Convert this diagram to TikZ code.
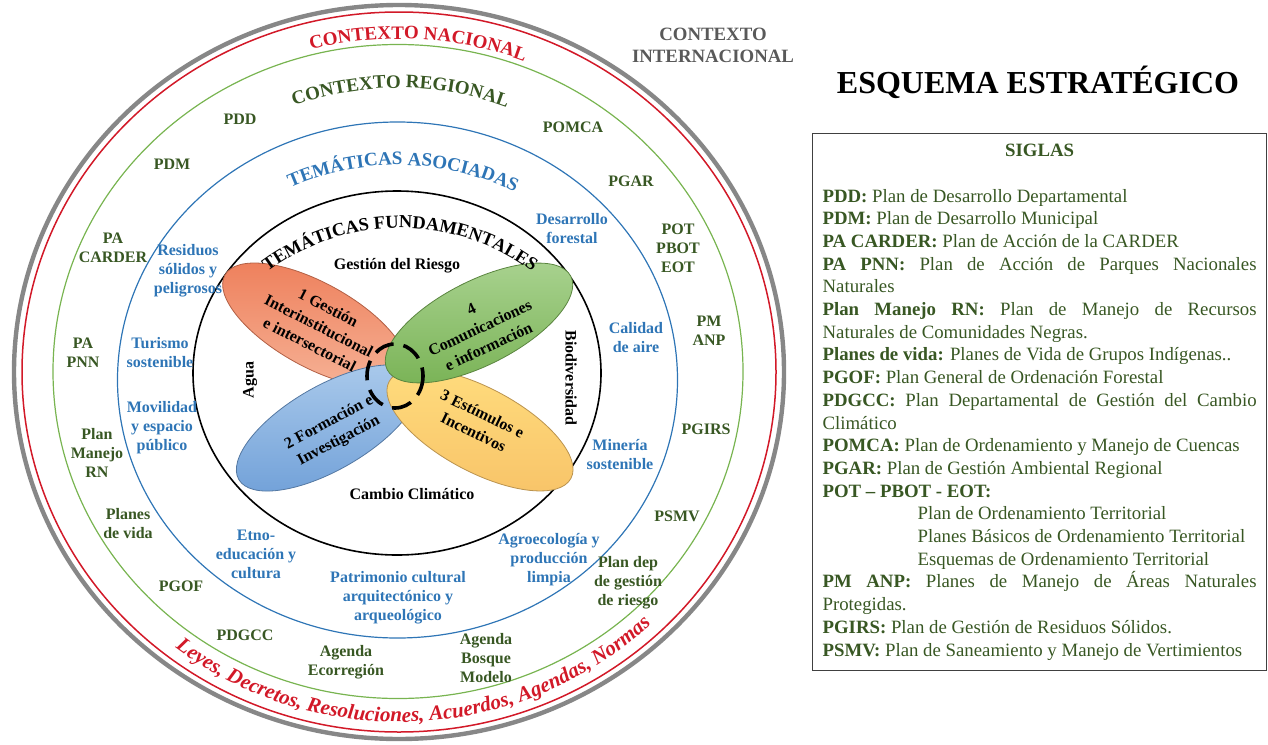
\documentclass[tikz,border=0pt]{standalone}
\usepackage{fontspec}
\setmainfont{Liberation Serif}
\usetikzlibrary{calc, decorations.text}
\definecolor{natred}{RGB}{210,25,40}
\definecolor{intgray}{RGB}{89,89,89}
\definecolor{ringgray}{RGB}{135,135,135}
\definecolor{reggreen}{RGB}{56,87,35}
\definecolor{ringgreen}{RGB}{120,180,80}
\definecolor{asoblue}{RGB}{46,117,182}
\definecolor{petorangeA}{RGB}{238,128,92}
\definecolor{petorangeB}{RGB}{246,178,150}
\definecolor{petgreenA}{RGB}{170,211,145}
\definecolor{petgreenB}{RGB}{120,178,84}
\definecolor{petyellowA}{RGB}{255,220,125}
\definecolor{petyellowB}{RGB}{248,196,105}
\definecolor{petblueA}{RGB}{172,203,236}
\definecolor{petblueB}{RGB}{112,160,216}

\begin{document}
\begin{tikzpicture}[x=0.5pt, y=-0.5pt,
		lbl/.style={font=\fontsize{8}{9.5}\selectfont\bfseries, align=center, inner sep=0pt},
		plan/.style={lbl, text=reggreen},
		tema/.style={lbl, text=asoblue},
		fund/.style={lbl, text=black},
		eje/.style={fund, font=\fontsize{8}{10.3}\selectfont\bfseries},
		petal/.style={draw=#1!75!black, line width=0.4pt},
		arctext/.style={decorate, decoration={text along path, text align=center, text color=#1}}]
	\useasboundingbox (0,0) rectangle (1268,744);
	\draw[ringgray, line width=2.2pt] (399,372) ellipse [x radius=385, y radius=367];
	\draw[natred, line width=0.75pt] (399,372) ellipse [x radius=377, y radius=360];
	\draw[ringgreen, line width=0.6pt] (398,371.5) ellipse [x radius=345, y radius=327];
	\draw[asoblue, line width=0.6pt] (397.5,380) ellipse [x radius=280, y radius=258];
	\draw[black, line width=0.8pt] (397,373) ellipse [x radius=204, y radius=182];

	\path[arctext=natred, decoration={text={|\fontsize{9.5}{11}\selectfont\bfseries|CONTEXTO NACIONAL}}]
		($(399,372)+(213.3:348 and 333)$) arc [start angle=213.3, end angle=333.3, x radius=348, y radius=333];
	\path[arctext=reggreen, decoration={text={|\fontsize{9.5}{11}\selectfont\bfseries|CONTEXTO REGIONAL}}]
		($(398,371)+(210.5:300 and 283)$) arc [start angle=210.5, end angle=330.5, x radius=300, y radius=283];
	\path[arctext=asoblue, decoration={text={|\fontsize{9.5}{11}\selectfont\bfseries|TEMÁTICAS ASOCIADAS}}]
		($(397.5,380)+(211.5:240 and 215)$) arc [start angle=211.5, end angle=331.5, x radius=240, y radius=215];
	\path[arctext=natred, decoration={text={|\fontsize{10.5}{12}\selectfont\bfseries\itshape|Leyes, Decretos, Resoluciones, Acuerdos, Agendas, Normas}}]
		($(399,372)+(147:363 and 350)$) arc [start angle=147, end angle=27, x radius=363, y radius=350];

	\shade[petal=petorangeA, rotate around={-29:(315,325)}, top color=petorangeA, bottom color=petorangeB] (315,325) ellipse [x radius=103, y radius=42];
	\shade[petal=petblueB, rotate around={30:(328,428)}, top color=petblueA, bottom color=petblueB] (328,428) ellipse [x radius=103, y radius=42];
	\shade[petal=petyellowB, rotate around={-28:(480,430)}, top color=petyellowA, bottom color=petyellowB] (480,430) ellipse [x radius=103, y radius=42];
	\shade[petal=petgreenB, rotate around={27:(479,323)}, top color=petgreenA, bottom color=petgreenB] (479,323) ellipse [x radius=103, y radius=42];
	\draw[line width=1.8pt, dash pattern=on 10pt off 5pt] (395,376) ellipse [x radius=28, y radius=32];
	\path[arctext=black, decoration={text={|\fontsize{9.2}{11}\selectfont\bfseries|TEMÁTICAS FUNDAMENTALES}}]
		($(400,450)+(210:222)$) arc [start angle=210, end angle=330, radius=222];

	\node[eje, rotate=-27] (gestion) at (319,326) {1 Gestión\\Interinstitucional\\e intersectorial};
	\node[eje, rotate=25] (comunic) at (480,328) {4\\Comunicaciones\\e información};
	\node[eje, rotate=-26] (estimul) at (478,423) {3 Estímulos e\\Incentivos};
	\node[eje, rotate=28] (formac) at (334,432) {2 Formación e\\Investigación};
	\node[fund] (riesgo) at (397,266) {Gestión del Riesgo};
	\node[fund] (clima) at (412,494) {Cambio Climático};
	\node[fund, rotate=90] (agua) at (250,380) {Agua};
	\node[fund, rotate=-90] (biodiv) at (571,378) {Biodiversidad};

	\node[tema] (residuos) at (188,271) {Residuos\\sólidos y\\peligrosos};
	\node[tema] (forestal) at (572,229) {Desarrollo\\forestal};
	\node[tema] (turismo) at (160,353) {Turismo\\sostenible};
	\node[tema] (aire) at (636,338) {Calidad\\de aire};
	\node[tema] (movilidad) at (162,428) {Movilidad\\y espacio\\público};
	\node[tema] (mineria) at (620,455) {Minería\\sostenible};
	\node[tema] (etno) at (256,554) {Etno-\\educación y\\cultura};
	\node[tema] (agroeco) at (549,560) {Agroecología y\\producción\\limpia};
	\node[tema] (patrimonio) at (398,598) {Patrimonio cultural\\arquitectónico y\\arqueológico};

	\node[plan] (pdd) at (240,119) {PDD};
	\node[plan] (pomca) at (573,127) {POMCA};
	\node[plan] (pdm) at (172,164) {PDM};
	\node[plan] (pgar) at (631,181) {PGAR};
	\node[plan] (carder) at (113,248) {PA\\CARDER};
	\node[plan] (pot) at (678,248) {POT\\PBOT\\EOT};
	\node[plan] (pnn) at (83,353) {PA\\PNN};
	\node[plan] (anp) at (709,331) {PM\\ANP};
	\node[plan] (manejo) at (97,453) {Plan\\Manejo\\RN};
	\node[plan] (pgirs) at (706,429) {PGIRS};
	\node[plan] (vida) at (128,524) {Planes\\de vida};
	\node[plan] (psmv) at (677,516) {PSMV};
	\node[plan] (pgof) at (181,586) {PGOF};
	\node[plan] (pdep) at (628,583) {Plan dep\\de gestión\\de riesgo};
	\node[plan] (pdgcc) at (245,635) {PDGCC};
	\node[plan] (ecorreg) at (346,662) {Agenda\\Ecorregión};
	\node[plan] (bosque) at (486,658) {Agenda\\Bosque\\Modelo};

	\node[align=center, text=intgray, font=\fontsize{9.4}{11}\selectfont\bfseries] (internac) at (713,45) {CONTEXTO\\INTERNACIONAL};
	\node[font=\fontsize{16}{19}\selectfont\bfseries] (titulo) at (1038,82) {ESQUEMA ESTRATÉGICO};
	\node[draw=black!75, line width=0.6pt, anchor=north west, text width=217pt, inner xsep=5pt, inner ysep=5.3pt,
		align=justify, text=reggreen, font=\fontsize{9.4}{11.35}\selectfont] (siglas) at (812,133) {%
		\parindent=0pt\hyphenpenalty=10000\exhyphenpenalty=10000\tolerance=10000
		{\centering\bfseries SIGLAS\par}
		\mbox{}\par
		\textbf{PDD:} Plan de Desarrollo Departamental\par
		\textbf{PDM:} Plan de Desarrollo Municipal\par
		\textbf{PA CARDER:} Plan de Acción de la CARDER\par
		\textbf{PA PNN:} Plan de Acción de Parques Nacionales\linebreak Naturales\par
		\textbf{Plan Manejo RN:} Plan de Manejo de Recursos\linebreak Naturales de Comunidades Negras.\par
		\textbf{Planes de vida:} Planes de Vida de Grupos Indígenas..\par
		\textbf{PGOF:} Plan General de Ordenación Forestal\par
		\textbf{PDGCC:} Plan Departamental de Gestión del Cambio\linebreak Climático\par
		\textbf{POMCA:} Plan de Ordenamiento y Manejo de Cuencas\par
		\textbf{PGAR:} Plan de Gestión Ambiental Regional\par
		\textbf{POT – PBOT - EOT:}\par
		{\leftskip=47.5pt Plan de Ordenamiento Territorial\par
		Planes Básicos de Ordenamiento Territorial\par
		Esquemas de Ordenamiento Territorial\par}
		\textbf{PM ANP:} Planes de Manejo de Áreas Naturales\linebreak Protegidas.\par
		\textbf{PGIRS:} Plan de Gestión de Residuos Sólidos.\par
		\textbf{PSMV:} Plan de Saneamiento y Manejo de Vertimientos};
\end{tikzpicture}
\end{document}
